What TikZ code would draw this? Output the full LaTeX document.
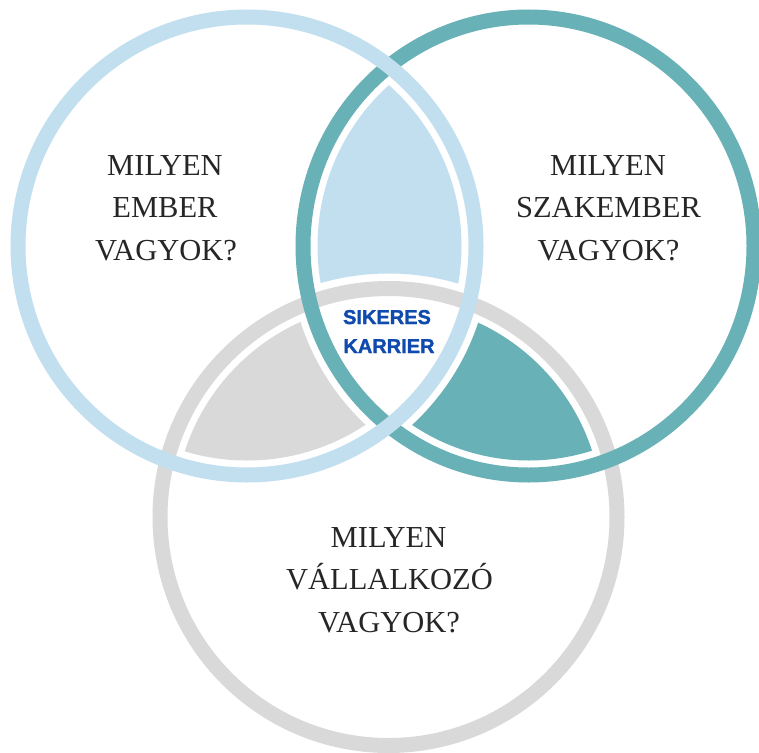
\documentclass[tikz,border=0pt]{standalone}
\usepackage{fontspec}
\setmainfont{Liberation Serif}
\newfontfamily\coresans[BoldFeatures={FakeBold=1.6}]{Liberation Sans}
\definecolor{ringblue}{HTML}{C2DFEF}
\definecolor{ringteal}{HTML}{68B1B6}
\definecolor{ringgray}{HTML}{D9D9D9}
\definecolor{qtext}{HTML}{262626}
\definecolor{cblue}{HTML}{0F4AAE}
\begin{document}
\begin{tikzpicture}[x=1pt,y=-1pt,
  ring/.style={line width=15pt},
  question/.style={font=\fontsize{30.5}{36}\selectfont, text=qtext, anchor=base, inner sep=0pt},
  core/.style={font=\coresans\bfseries\fontsize{20}{24}\selectfont, text=cblue, anchor=base, inner sep=0pt}]
\useasboundingbox[fill=white] (0,0) rectangle (759,752);
\coordinate (L) at (247,246);
\coordinate (R) at (528.5,246);
\coordinate (B) at (388.5,517);

% top lens: left and right, outside bottom
\begin{scope}[even odd rule]
  \clip (L) circle (214.5pt);
  \clip (R) ellipse (211pt and 214.5pt);
  \clip (-20,-20) rectangle (800,800) (B) circle (243.5pt);
  \fill[ringblue] (0,0) rectangle (759,752);
\end{scope}
% left-bottom lens: left and bottom, outside right
\begin{scope}[even odd rule]
  \clip (L) circle (214.5pt);
  \clip (B) circle (214pt);
  \clip (-20,-20) rectangle (800,800) (R) ellipse (240pt and 243.5pt);
  \fill[ringgray] (0,0) rectangle (759,752);
\end{scope}
% right-bottom lens: right and bottom, outside left
\begin{scope}[even odd rule]
  \clip (R) ellipse (211pt and 214.5pt);
  \clip (B) circle (214pt);
  \clip (-20,-20) rectangle (800,800) (L) circle (243.5pt);
  \fill[ringteal] (0,0) rectangle (759,752);
\end{scope}

% rings
\draw[ring, ringgray] (B) circle (228.5pt);
\draw[ring, ringteal] (R) ellipse (225.5pt and 229pt);
\draw[ring, ringblue] (L) circle (229pt);

% texts
\node[question] (l1) at (165,175) {MILYEN};
\node[question] (l2) at (165,217) {EMBER};
\node[question] (l3) at (166,260) {VAGYOK?};

\node[question] (r1) at (608,175) {MILYEN};
\node[question] (r2) at (608.5,217) {SZAKEMBER};
\node[question] (r3) at (608.5,260) {VAGYOK?};

\node[question] (b1) at (388.5,547) {MILYEN};
\node[question] (b2) at (389.5,589) {VÁLLALKOZÓ};
\node[question] (b3) at (389,632) {VAGYOK?};

\node[core] (c1) at (387,324) {SIKERES};
\node[core] (c2) at (389,353) {KARRIER};
\end{tikzpicture}
\end{document}
